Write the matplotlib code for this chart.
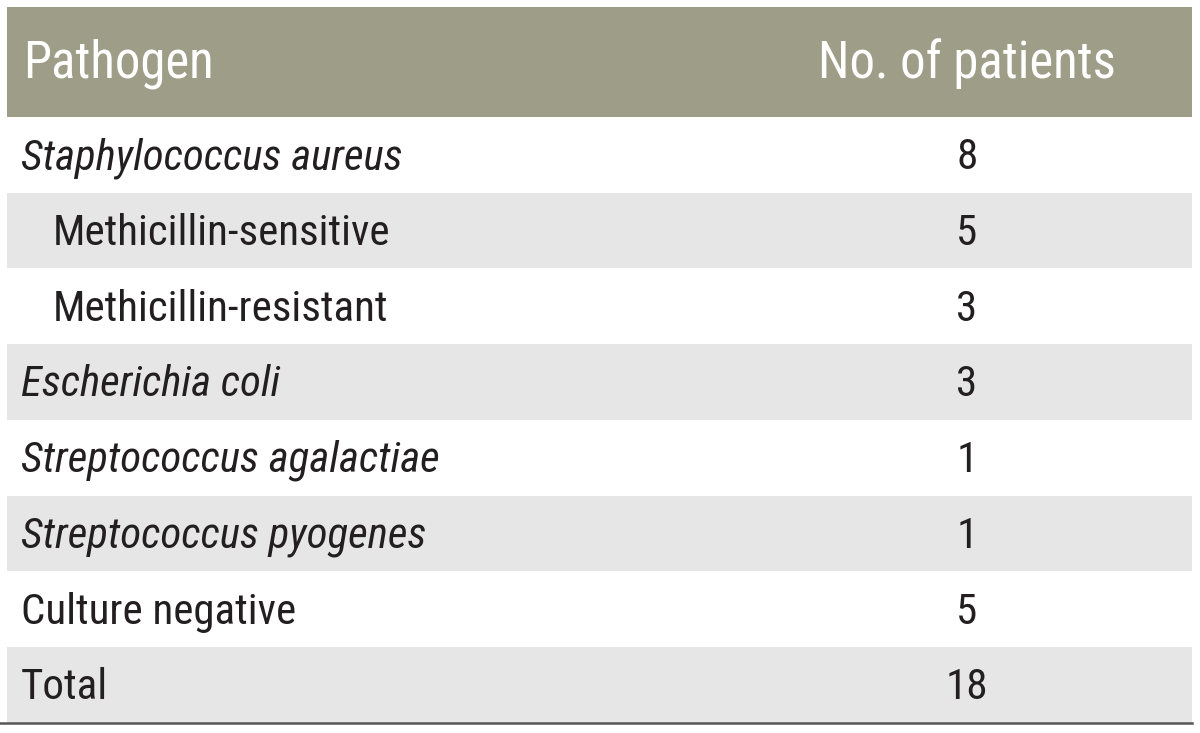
import matplotlib
matplotlib.use('Agg')
import matplotlib.pyplot as plt
from matplotlib.patches import Rectangle

# 表格数据
pathogens = ['Staphylococcus aureus', 'Methicillin-sensitive', 'Methicillin-resistant',
             'Escherichia coli', 'Streptococcus agalactiae', 'Streptococcus pyogenes',
             'Culture negative', 'Total']
patients = [8, 5, 3, 3, 1, 1, 5, 18]
italic = [True, False, False, True, True, True, False, False]
indent = [False, True, True, False, False, False, False, False]
headers = ['Pathogen', 'No. of patients']

FONT = ['Roboto Condensed', 'DejaVu Sans']
TEXT = '#231f20'

fig = plt.figure(figsize=(12, 7.33), dpi=100)
ax = fig.add_axes([0, 0, 1, 1])
ax.set_xlim(0, 1200)
ax.set_ylim(733, 0)
ax.axis('off')

top, head_h, row_h = 7, 110, 75.7
left, right = 7, 1192
num_x = 967

# 表头
ax.add_patch(Rectangle((left, top), right - left, head_h, color='#9e9d88', lw=0))
ax.text(23, top + head_h / 2 + 2, headers[0], color='white', fontsize=36.5,
        family=FONT, va='center', ha='left')
ax.text(num_x, top + head_h / 2 + 2, headers[1], color='white', fontsize=36.5,
        family=FONT, va='center', ha='center')

# 各行
for i, (name, n) in enumerate(zip(pathogens, patients)):
    y0 = top + head_h + i * row_h
    if i % 2 == 1:
        ax.add_patch(Rectangle((left, y0), right - left, row_h, color='#e6e6e6', lw=0))
    yc = y0 + row_h / 2 + 3
    ax.text(53 if indent[i] else 21, yc, name, color=TEXT, fontsize=31, family=FONT,
            style='italic' if italic[i] else 'normal', va='center', ha='left')
    ax.text(num_x, yc, str(n), color=TEXT, fontsize=31, family=FONT,
            va='center', ha='center')

bottom = top + head_h + len(pathogens) * row_h
ax.plot([0, right], [bottom, bottom], color='#555555', lw=1.8)

fig.savefig('out.png', dpi=100, facecolor='white')
